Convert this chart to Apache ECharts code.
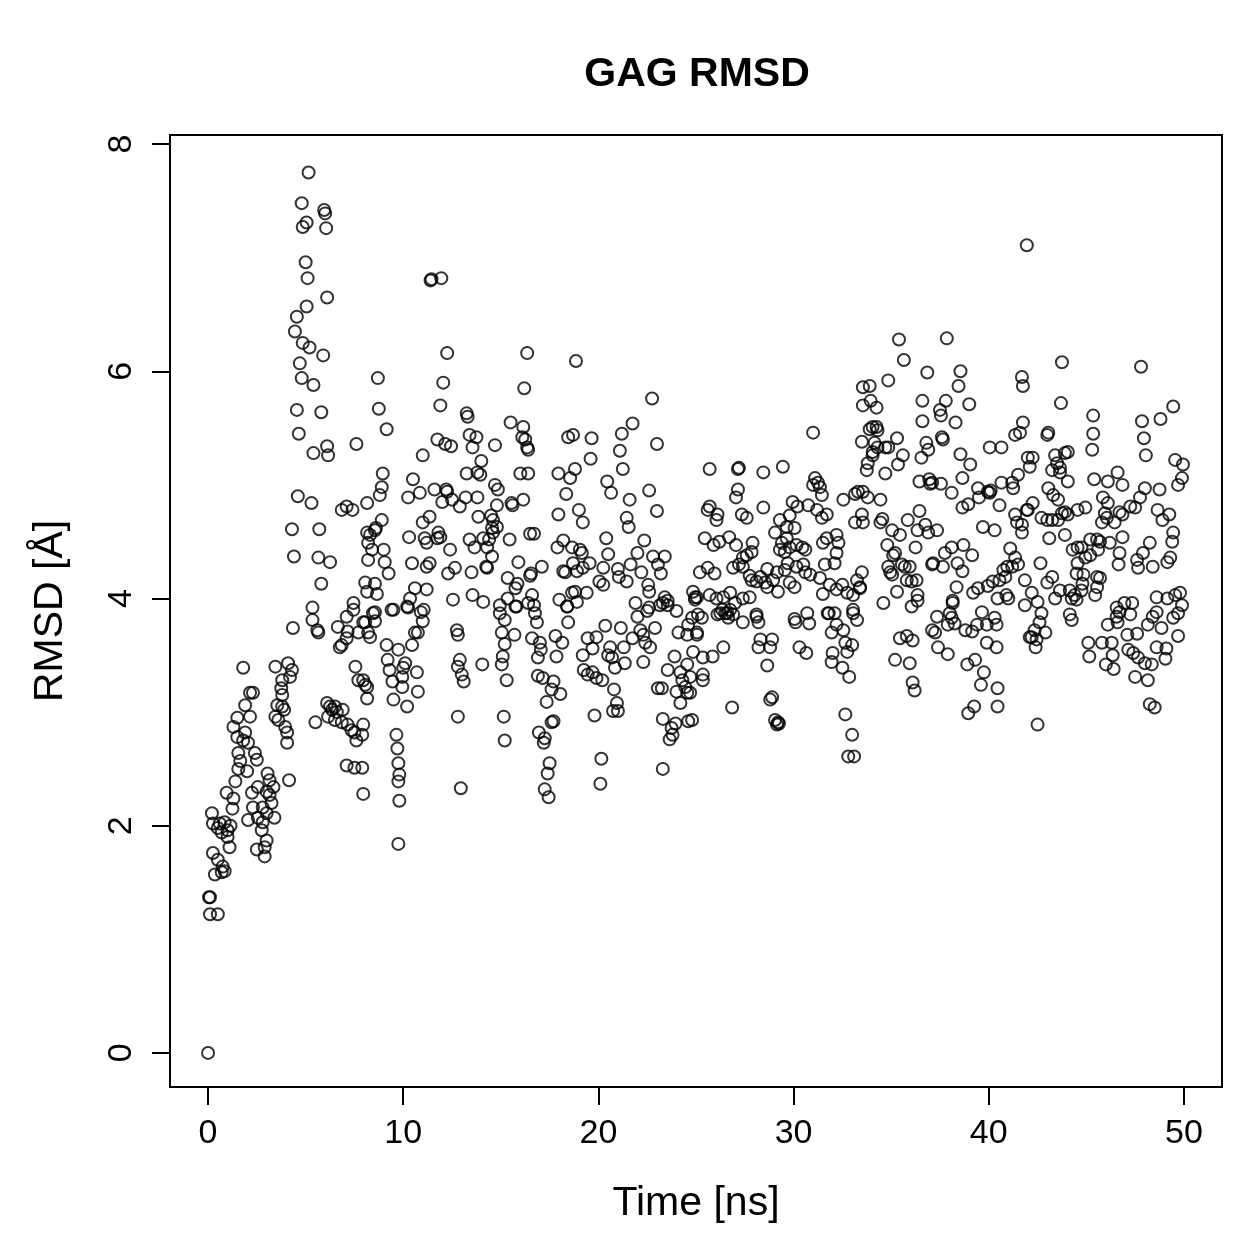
<!DOCTYPE html>
<html>
<head>
<meta charset="utf-8">
<title>GAG RMSD</title>
<script src="https://cdn.jsdelivr.net/npm/echarts@6/dist/echarts.min.js"></script>
<style>
  html, body { margin: 0; padding: 0; background: #fff; }
  #chart { width: 1259px; height: 1259px; }
</style>
</head>
<body>
<div id="chart"></div>
<script>
// [time (ns), RMSD (Å)], split by time window
const seg0to5 = [
  [0, 0], [0.05, 1.37], [0.1, 1.37], [0.1, 1.22], [0.5, 1.22], [0.2, 2.11], [0.25, 1.76], [0.35, 1.57],
  [0.25, 2.02], [0.5, 1.98], [0.6, 2.02], [0.5, 1.7], [0.75, 1.64], [0.7, 1.59], [0.85, 1.6], [0.7, 1.94],
  [0.85, 2.03], [0.95, 2.29], [1.0, 1.96], [1.0, 1.9], [1.1, 1.81], [1.15, 2.0], [1.25, 2.15], [1.3, 2.24],
  [1.4, 2.39], [1.55, 2.5], [1.65, 2.57], [1.55, 2.64], [1.5, 2.78], [1.3, 2.87], [1.5, 2.95], [1.8, 2.75],
  [1.9, 2.82], [2.05, 2.73], [2.0, 2.48], [1.8, 3.39], [1.9, 3.06], [2.15, 2.96], [2.15, 3.17], [2.3, 3.17],
  [2.05, 2.05], [2.25, 2.29], [2.3, 2.16], [2.55, 2.34], [2.4, 2.64], [2.5, 2.58], [2.55, 2.07], [2.5, 1.79],
  [2.75, 1.96], [2.8, 2.16], [2.8, 2.03], [2.9, 1.81], [2.9, 1.73], [3.0, 1.87], [3.0, 2.11], [3.0, 2.3],
  [3.05, 2.46], [3.15, 2.4], [3.15, 2.27], [3.25, 2.2], [3.35, 2.34], [3.4, 2.07], [3.45, 3.4], [3.45, 2.96],
  [3.55, 3.06], [3.6, 2.93], [3.75, 3.21], [3.8, 3.28], [3.8, 3.15], [3.8, 3.05], [3.9, 3.02], [3.95, 2.87],
  [4.05, 2.82], [4.05, 2.73], [4.1, 3.43], [4.2, 3.31], [4.3, 3.37], [4.15, 2.4], [4.35, 3.74], [4.3, 4.61],
  [4.4, 4.37], [4.45, 6.35], [4.55, 6.48], [4.55, 5.66], [4.65, 5.45], [4.6, 4.9], [4.7, 6.07], [4.8, 5.94],
  [4.8, 7.48], [4.85, 7.27], [5.05, 7.31], [5.0, 6.96], [5.05, 6.57], [4.85, 6.25]
]
const seg5to10 = [
  [5.15, 7.75], [5.1, 6.82], [5.2, 6.21], [5.4, 5.88], [5.3, 4.84], [5.35, 3.81], [5.35, 3.92], [5.4, 5.28],
  [5.6, 3.72], [5.65, 3.7], [5.5, 2.91], [5.7, 4.61], [5.65, 4.36], [5.8, 4.13], [5.8, 5.64], [5.9, 6.14],
  [5.95, 7.42], [6.0, 7.39], [6.05, 7.26], [6.1, 6.65], [6.1, 5.34], [6.15, 5.26], [6.25, 4.32], [6.1, 3.08],
  [6.25, 3.05], [6.35, 3.02], [6.5, 3.05], [6.6, 3.0], [6.9, 3.02], [6.15, 2.96], [6.5, 2.93], [6.85, 2.91],
  [7.15, 2.89], [7.35, 2.84], [7.5, 2.82], [7.6, 2.75], [7.9, 2.8], [7.95, 2.89], [7.1, 2.53], [7.5, 2.51],
  [7.9, 2.51], [7.95, 2.28], [6.65, 3.75], [6.75, 3.57], [6.85, 3.59], [7.1, 3.65], [7.15, 3.71], [7.1, 3.84],
  [7.45, 3.9], [7.7, 3.7], [7.45, 3.96], [7.95, 3.79], [8.2, 3.7], [6.85, 4.78], [7.1, 4.81], [7.4, 4.78],
  [7.6, 5.36], [7.55, 3.4], [7.7, 3.28], [8.05, 3.24], [8.15, 3.12], [7.95, 3.28], [8.15, 3.22], [8.05, 4.14],
  [8.15, 4.58], [8.2, 4.49], [8.2, 4.34], [8.15, 4.84], [8.3, 4.56], [8.55, 4.6], [8.6, 4.62], [8.9, 4.69],
  [8.4, 4.43], [9.0, 4.43], [9.05, 4.32], [9.25, 4.22], [8.55, 4.13], [8.15, 4.06], [8.65, 4.04], [8.55, 3.88],
  [8.45, 3.87], [8.55, 3.8], [8.05, 3.79], [8.3, 3.66], [8.7, 5.94], [8.75, 5.67], [9.15, 5.49], [8.95, 5.1],
  [8.9, 4.98], [8.8, 4.91], [9.5, 3.9], [9.4, 3.9], [9.15, 3.59], [9.75, 3.55], [9.2, 3.46], [9.3, 3.37],
  [9.45, 3.27], [9.95, 3.31], [9.95, 3.22], [9.5, 3.11], [10.0, 3.39], [9.65, 2.8], [9.7, 2.68], [9.75, 2.55],
  [9.8, 2.45], [9.75, 2.39], [9.8, 2.22], [9.75, 1.84]
]
const seg10to15 = [
  [10.1, 3.43], [10.2, 3.05], [10.2, 3.93], [10.25, 3.92], [10.45, 3.59], [10.6, 3.7], [10.75, 3.7], [10.7, 3.35],
  [10.75, 3.18], [11.0, 3.8], [10.9, 3.88], [11.05, 3.9], [10.5, 5.05], [10.85, 4.93], [10.25, 4.89], [11.0, 5.26],
  [11.35, 4.72], [11.0, 4.67], [11.8, 4.58], [11.9, 4.54], [11.75, 4.53], [11.1, 4.53], [11.2, 4.49], [10.3, 4.54],
  [10.45, 4.31], [11.2, 4.28], [11.35, 4.31], [10.6, 4.09], [11.2, 4.08], [10.35, 4.0], [11.4, 6.8], [11.45, 6.81],
  [11.95, 6.82], [12.25, 6.16], [12.05, 5.9], [11.9, 5.7], [11.75, 5.4], [12.15, 5.36], [12.45, 5.34], [11.6, 4.96],
  [12.2, 4.96], [12.25, 4.94], [12.0, 4.85], [12.5, 4.87], [12.9, 4.81], [12.4, 4.43], [12.3, 4.22], [12.65, 4.27],
  [12.55, 3.99], [12.75, 3.72], [12.8, 3.68], [12.8, 3.4], [12.9, 3.46], [13.0, 3.33], [13.1, 3.27], [12.8, 2.96],
  [12.95, 2.33], [13.25, 5.63], [13.3, 5.6], [13.4, 5.44], [13.75, 5.42], [13.55, 5.33], [14.0, 5.21], [13.25, 5.1],
  [13.8, 5.11], [13.95, 5.09], [13.2, 4.89], [13.8, 4.89], [13.85, 4.72], [13.4, 4.52], [13.65, 4.45], [14.1, 4.53],
  [14.3, 4.45], [14.55, 4.37], [13.5, 4.23], [14.25, 4.28], [14.3, 4.27], [13.55, 4.03], [14.1, 3.97], [14.05, 3.42],
  [14.7, 5.35], [14.7, 5.0], [14.85, 4.96], [14.8, 4.82], [14.5, 4.73], [14.6, 4.69], [14.8, 4.63], [14.55, 4.62],
  [14.6, 4.58], [14.4, 4.52], [14.95, 3.94], [14.95, 3.87]
]
const seg15to20 = [
  [15.1, 3.49], [15.2, 3.6], [15.3, 3.28], [15.15, 2.96], [15.2, 2.75], [15.05, 3.7], [15.7, 3.68], [15.2, 3.81],
  [15.75, 3.93], [15.35, 4.0], [15.8, 3.93], [15.05, 3.42], [15.5, 5.55], [15.55, 4.84], [15.6, 4.82], [16.15, 4.87],
  [15.45, 4.52], [15.9, 4.32], [16.5, 4.57], [15.35, 4.18], [15.85, 4.13], [15.75, 4.09], [16.5, 4.2], [16.4, 3.96],
  [16.35, 6.16], [16.2, 5.85], [16.15, 5.51], [16.1, 5.42], [16.25, 5.4], [16.35, 5.33], [16.4, 5.31], [16.0, 5.1],
  [16.4, 5.1], [16.7, 4.57], [17.1, 4.28], [16.55, 4.22], [16.6, 4.03], [16.7, 3.94], [16.75, 3.87], [16.85, 3.79],
  [16.6, 3.65], [17.0, 3.61], [16.9, 3.48], [17.05, 3.55], [16.9, 3.32], [17.15, 3.3], [17.7, 3.27], [17.6, 3.2],
  [18.05, 3.16], [17.35, 3.09], [17.6, 2.91], [17.7, 2.92], [16.95, 2.82], [17.25, 2.77], [17.2, 2.73], [17.5, 2.55],
  [17.4, 2.46], [17.25, 2.32], [17.45, 2.25], [17.8, 3.67], [18.15, 3.61], [17.85, 3.49], [18.4, 3.93], [18.45, 3.79],
  [18.85, 6.09], [18.45, 5.42], [18.7, 5.44], [19.65, 5.41], [19.6, 5.23], [17.95, 5.1], [18.55, 5.06], [18.8, 5.14],
  [18.35, 4.92], [17.95, 4.74], [19.0, 4.78], [19.2, 4.67], [17.9, 4.45], [18.2, 4.51], [18.65, 4.45], [19.05, 4.43],
  [19.15, 4.4], [18.2, 4.24], [18.3, 4.23], [18.7, 4.31], [18.9, 4.24], [19.2, 4.27], [19.55, 4.31], [18.0, 3.99],
  [18.4, 3.93], [18.65, 4.05], [18.8, 4.06], [18.9, 3.97], [19.4, 4.05], [19.2, 3.5], [19.45, 3.65], [19.9, 3.66],
  [19.7, 3.56], [19.25, 3.37], [19.45, 3.33], [19.7, 3.35], [19.9, 3.3], [19.8, 2.97]
]
const seg20to25 = [
  [20.35, 3.76], [20.2, 3.28], [20.15, 2.59], [20.1, 2.37], [20.6, 3.57], [20.7, 3.48], [20.85, 3.39], [20.5, 3.5],
  [20.8, 3.2], [20.95, 3.08], [20.75, 3.01], [21.0, 3.01], [21.15, 3.74], [21.3, 3.57], [21.35, 3.43], [21.9, 3.96],
  [22.0, 3.84], [21.75, 3.65], [22.15, 3.72], [22.3, 3.68], [22.4, 3.61], [22.6, 3.92], [22.65, 3.57], [22.9, 3.74],
  [22.3, 3.44], [23.3, 3.96], [23.55, 3.94], [24.0, 3.89], [23.05, 3.21], [23.25, 3.21], [23.3, 2.5], [23.3, 2.94],
  [23.75, 2.86], [23.95, 2.9], [23.65, 2.76], [23.8, 2.8], [24.6, 2.92], [23.9, 3.49], [23.55, 3.37], [24.2, 3.35],
  [24.3, 3.28], [24.45, 3.22], [24.0, 3.18], [24.55, 3.17], [24.2, 3.08], [24.55, 3.42], [24.7, 3.31], [24.1, 3.7],
  [24.6, 3.77], [24.55, 3.68], [24.8, 3.83], [24.85, 3.53], [22.75, 5.76], [21.75, 5.54], [21.2, 5.45], [23.0, 5.36],
  [21.1, 5.3], [21.25, 5.14], [20.45, 5.03], [20.65, 4.93], [22.6, 4.95], [21.6, 4.87], [21.45, 4.71], [21.55, 4.63],
  [23.0, 4.77], [20.4, 4.53], [20.5, 4.39], [22.35, 4.51], [20.25, 4.27], [21.0, 4.26], [21.05, 4.19], [21.45, 4.15],
  [21.65, 4.3], [22.0, 4.4], [22.2, 4.23], [22.8, 4.37], [23.05, 4.3], [23.4, 4.37], [23.2, 4.22], [22.55, 4.12],
  [22.6, 4.06], [20.05, 4.15], [20.25, 4.12], [22.5, 3.89], [23.4, 4.01], [23.55, 3.98], [23.15, 3.94], [24.85, 4.06],
  [24.95, 4.01], [24.7, 3.17], [24.8, 2.93]
]
const seg25to30 = [
  [25.05, 3.7], [25.3, 3.83], [25.05, 3.68], [25.35, 3.48], [25.85, 3.49], [26.4, 3.57], [25.35, 3.33], [25.35, 3.28],
  [26.1, 3.86], [26.5, 3.87], [26.65, 3.83], [26.75, 3.9], [26.35, 3.9], [27.4, 3.79], [28.1, 3.84], [28.2, 3.79],
  [26.85, 3.04], [28.3, 3.64], [28.9, 3.64], [28.8, 3.57], [28.2, 3.57], [28.65, 3.41], [28.9, 3.13], [28.8, 3.11],
  [29.05, 2.93], [29.2, 2.91], [29.15, 2.89], [29.25, 2.9], [25.7, 5.14], [27.15, 5.14], [27.2, 5.15], [28.45, 5.11],
  [29.45, 5.16], [27.15, 4.96], [27.05, 4.89], [25.7, 4.81], [25.6, 4.78], [26.1, 4.74], [26.05, 4.69], [27.35, 4.74],
  [27.6, 4.71], [28.45, 4.8], [29.95, 4.85], [29.8, 4.73], [29.3, 4.69], [29.65, 4.63], [29.05, 4.58], [25.45, 4.53],
  [25.9, 4.47], [26.2, 4.5], [26.7, 4.54], [27.05, 4.47], [27.9, 4.49], [27.85, 4.41], [27.6, 4.38], [27.4, 4.36],
  [29.4, 4.49], [29.65, 4.53], [29.3, 4.43], [29.55, 4.41], [29.8, 4.45], [29.7, 4.31], [29.55, 4.25], [25.2, 4.23],
  [25.6, 4.27], [25.95, 4.22], [26.9, 4.27], [27.2, 4.3], [27.4, 4.28], [27.75, 4.2], [27.85, 4.16], [28.1, 4.15],
  [28.3, 4.19], [28.55, 4.14], [28.65, 4.26], [29.15, 4.23], [28.95, 4.16], [25.05, 4.01], [24.95, 3.99], [25.7, 4.03],
  [26.05, 4.0], [26.4, 4.01], [26.75, 4.05], [27.0, 3.96], [27.4, 4.0], [27.75, 4.01], [26.6, 3.87], [26.25, 3.87],
  [26.9, 3.86], [28.1, 3.86], [25.1, 3.86], [28.65, 4.1], [29.2, 4.06], [29.8, 4.14]
]
const seg30to35 = [
  [30.2, 4.81], [30.75, 4.82], [30.05, 4.62], [30.15, 4.47], [30.45, 4.45], [30.6, 4.43], [30.15, 4.28], [30.5, 4.3],
  [30.6, 4.23], [30.85, 4.21], [31.35, 4.18], [31.85, 4.12], [32.2, 4.08], [32.5, 4.12], [32.75, 4.05], [33.05, 4.03],
  [33.25, 4.16], [33.4, 4.09], [30.05, 4.1], [30.05, 3.82], [30.7, 3.87], [31.5, 4.04], [31.75, 3.87], [32.1, 3.87],
  [33.05, 3.87], [30.1, 3.79], [30.8, 3.78], [30.3, 3.57], [30.65, 3.52], [31.8, 3.87], [32.2, 3.77], [32.55, 3.72],
  [31.95, 3.7], [32.65, 3.61], [33.0, 3.59], [32.75, 3.53], [32.0, 3.52], [31.95, 3.44], [32.5, 3.39], [32.85, 3.31],
  [33.05, 3.9], [33.25, 3.81], [32.65, 2.98], [33.0, 2.8], [32.8, 2.61], [33.1, 2.61], [31.0, 5.46], [33.55, 5.86],
  [33.55, 5.7], [33.5, 5.38], [31.1, 5.06], [31.25, 5.02], [31.35, 4.98], [31.0, 5.0], [31.45, 4.91], [32.55, 4.87],
  [33.15, 4.92], [31.2, 4.78], [31.45, 4.71], [31.7, 4.74], [31.5, 4.49], [31.7, 4.53], [32.2, 4.56], [32.3, 4.49],
  [32.2, 4.4], [31.6, 4.3], [32.1, 4.31], [35.4, 6.28], [35.65, 6.1], [34.85, 5.92], [33.9, 5.87], [33.95, 5.74],
  [34.25, 5.68], [34.05, 5.51], [34.25, 5.51], [34.3, 5.48], [33.9, 5.49], [34.15, 5.37], [34.05, 5.29], [34.3, 5.33],
  [34.7, 5.33], [34.85, 5.33], [35.3, 5.41], [34.05, 5.26], [33.8, 5.19], [33.75, 5.13], [34.7, 5.1], [33.3, 4.94],
  [33.55, 4.94], [33.8, 4.89], [34.45, 4.87], [33.5, 4.74], [33.55, 4.67], [33.15, 4.67], [34.55, 4.7], [34.45, 4.67],
  [34.8, 4.47], [33.5, 4.23], [33.4, 4.1], [34.85, 4.28], [34.95, 4.23], [34.6, 3.96]
]
const seg35to40 = [
  [36.85, 5.99], [38.55, 6.0], [37.85, 6.29], [38.45, 5.87], [36.6, 5.74], [37.5, 5.66], [37.55, 5.61], [37.8, 5.74],
  [39.0, 5.71], [36.6, 5.56], [38.3, 5.55], [37.6, 5.42], [37.65, 5.4], [35.6, 5.26], [35.35, 5.18], [36.8, 5.37],
  [36.9, 5.31], [36.55, 5.24], [38.55, 5.27], [39.05, 5.18], [38.65, 5.06], [36.45, 5.03], [36.95, 5.05], [37.1, 5.02],
  [37.0, 5.01], [37.55, 5.01], [38.1, 4.93], [39.45, 4.97], [39.95, 4.94], [39.5, 4.89], [38.65, 4.8], [38.95, 4.83],
  [36.45, 4.77], [35.85, 4.69], [35.05, 4.6], [35.45, 4.56], [36.35, 4.6], [36.75, 4.65], [36.9, 4.58], [37.35, 4.6],
  [39.7, 4.63], [35.1, 4.38], [35.2, 4.4], [36.25, 4.45], [38.1, 4.45], [38.7, 4.47], [39.15, 4.38], [37.75, 4.4],
  [37.65, 4.28], [37.15, 4.31], [37.1, 4.3], [38.4, 4.31], [38.65, 4.24], [35.05, 4.21], [35.55, 4.3], [35.7, 4.28],
  [35.95, 4.28], [35.8, 4.16], [36.05, 4.15], [36.3, 4.16], [35.3, 4.06], [36.35, 4.03], [36.05, 3.93], [38.35, 4.1],
  [38.15, 3.98], [39.2, 4.05], [39.45, 4.09], [39.95, 4.11], [39.65, 3.88], [37.35, 3.84], [38.0, 3.87], [38.1, 3.83],
  [36.35, 3.98], [38.15, 3.96], [37.1, 3.72], [37.25, 3.7], [37.9, 3.77], [38.25, 3.78], [38.8, 3.72], [39.15, 3.71],
  [39.4, 3.77], [39.9, 3.77], [35.45, 3.65], [35.8, 3.67], [36.1, 3.63], [35.2, 3.46], [35.95, 3.43], [36.1, 3.26],
  [36.2, 3.19], [37.4, 3.57], [37.9, 3.51], [38.9, 3.42], [39.3, 3.46], [39.75, 3.35], [39.6, 3.24], [38.95, 2.99],
  [39.25, 3.05], [39.9, 3.61]
]
const seg40to45 = [
  [40.05, 5.33], [40.65, 5.33], [42.0, 5.24], [41.5, 5.09], [41.2, 5.02], [41.25, 4.97], [40.1, 4.95], [40.05, 4.93],
  [40.65, 5.02], [40.55, 4.82], [40.3, 4.6], [41.35, 4.74], [41.45, 4.67], [41.7, 4.65], [41.95, 4.78], [41.1, 4.44],
  [41.35, 4.36], [40.95, 4.28], [41.2, 4.28], [41.5, 4.3], [40.75, 4.25], [40.2, 4.15], [40.55, 4.16], [40.85, 4.19],
  [40.45, 4.0], [40.9, 4.03], [41.0, 4.0], [41.85, 4.16], [41.85, 3.94], [40.3, 3.83], [41.95, 7.11], [41.7, 5.95],
  [41.75, 5.87], [41.75, 5.55], [41.35, 5.44], [41.6, 5.46], [40.4, 3.77], [40.45, 3.21], [40.45, 3.05], [40.4, 3.57],
  [42.1, 3.66], [43.75, 6.08], [43.7, 5.72], [43.0, 5.44], [43.05, 5.46], [42.25, 5.24], [42.1, 5.16], [43.4, 5.26],
  [43.5, 5.19], [43.65, 5.15], [43.9, 5.28], [44.05, 5.29], [43.25, 5.13], [43.65, 5.11], [44.05, 5.03], [43.05, 4.97],
  [43.3, 4.91], [43.55, 4.87], [42.25, 4.84], [42.0, 4.78], [42.7, 4.71], [43.25, 4.69], [43.0, 4.69], [43.55, 4.69],
  [43.75, 4.75], [43.9, 4.76], [44.05, 4.74], [44.55, 4.78], [44.95, 4.8], [41.7, 4.58], [43.1, 4.53], [43.9, 4.56],
  [44.3, 4.43], [44.55, 4.45], [44.75, 4.45], [44.95, 4.36], [44.55, 4.31], [44.5, 4.22], [44.85, 4.21], [42.65, 4.31],
  [43.0, 4.14], [43.25, 4.19], [43.4, 4.0], [43.65, 4.07], [44.15, 4.07], [44.25, 4.0], [44.4, 4.03], [44.5, 3.99],
  [44.75, 4.07], [44.8, 4.13], [42.2, 4.05], [42.5, 3.97], [42.7, 3.87], [42.6, 3.79], [42.35, 3.72], [42.2, 3.66],
  [42.45, 3.64], [42.9, 3.7], [42.4, 3.57], [44.15, 3.86], [44.25, 3.81], [42.5, 2.89]
]
const seg45to50 = [
  [47.8, 6.04], [49.45, 5.69], [45.35, 5.61], [47.85, 5.56], [48.8, 5.58], [45.35, 5.45], [47.95, 5.41], [45.3, 5.31],
  [48.05, 5.26], [49.55, 5.22], [49.95, 5.18], [46.6, 5.11], [46.1, 5.03], [46.85, 5.0], [45.4, 5.05], [49.9, 5.06],
  [49.7, 5.0], [45.85, 4.89], [46.1, 4.84], [45.95, 4.75], [45.8, 4.67], [46.05, 4.71], [46.45, 4.67], [46.7, 4.76],
  [46.85, 4.74], [47.25, 4.81], [47.5, 4.8], [47.75, 4.89], [48.0, 4.97], [48.75, 4.96], [48.65, 4.78], [48.9, 4.69],
  [49.25, 4.74], [45.2, 4.52], [45.55, 4.52], [45.7, 4.5], [45.6, 4.43], [45.2, 4.38], [45.55, 4.19], [46.2, 4.49],
  [46.85, 4.54], [46.7, 4.4], [46.65, 4.3], [47.6, 4.34], [47.9, 4.4], [48.25, 4.49], [47.65, 4.27], [48.4, 4.28],
  [49.15, 4.32], [49.3, 4.36], [49.45, 4.58], [49.4, 4.5], [45.55, 4.1], [45.7, 4.18], [45.45, 4.03], [46.55, 3.92],
  [46.7, 3.88], [46.95, 3.96], [47.35, 3.96], [46.55, 3.84], [48.6, 4.01], [49.15, 4.0], [49.55, 4.03], [49.8, 4.05],
  [49.9, 3.94], [49.7, 3.87], [48.6, 3.88], [45.1, 3.61], [45.15, 3.49], [45.8, 3.61], [46.3, 3.61], [46.35, 3.5],
  [46.0, 3.42], [46.4, 3.38], [46.1, 3.77], [46.6, 3.79], [47.25, 3.86], [47.1, 3.68], [47.6, 3.69], [47.15, 3.55],
  [47.4, 3.52], [47.65, 3.48], [47.5, 3.31], [48.15, 3.28], [48.0, 3.43], [48.35, 3.42], [48.6, 3.57], [49.1, 3.56],
  [49.05, 3.47], [49.7, 3.67], [48.15, 3.77], [48.4, 3.84], [48.85, 3.74], [49.45, 3.83], [48.25, 3.07], [48.5, 3.04]
]

const xTicks = [0, 10, 20, 30, 40, 50]
const yTicks = [0, 2, 4, 6, 8]

const points = [].concat(seg0to5, seg5to10, seg10to15, seg15to20, seg20to25,
  seg25to30, seg30to35, seg35to40, seg40to45, seg45to50)

const font = '"Liberation Sans", Arial, Helvetica, sans-serif'
let chart = echarts.init(document.getElementById('chart'), null, { renderer: 'canvas' })
let option = {
  animation: false,
  backgroundColor: '#fff',
  title: {
    text: 'GAG RMSD',
    left: 692,
    top: 49,
    textAlign: 'center',
    textStyle: { fontFamily: font, fontSize: 41, fontWeight: 'bold', color: '#000' }
  },
  grid: {
    left: 170, right: 37, top: 135, bottom: 172,
    show: true, borderColor: '#000', borderWidth: 2
  },
  xAxis: {
    type: 'value',
    min: -1.95,
    max: 51.95,
    name: 'Time [ns]',
    nameLocation: 'middle',
    nameGap: 96,
    nameTextStyle: { fontFamily: font, fontSize: 41, color: '#000' },
    axisLine: { show: false, onZero: false },
    axisTick: { show: true, inside: false, length: 18, lineStyle: { color: '#000', width: 2 }, customValues: xTicks },
    axisLabel: { customValues: xTicks, margin: 30, fontFamily: font, fontSize: 34, color: '#000' },
    splitLine: { show: false }
  },
  yAxis: {
    type: 'value',
    min: -0.3,
    max: 8.08,
    name: 'RMSD [Å]',
    nameLocation: 'middle',
    nameGap: 99,
    nameTextStyle: { fontFamily: font, fontSize: 41, color: '#000' },
    axisLine: { show: false, onZero: false },
    axisTick: { show: true, inside: false, length: 18, lineStyle: { color: '#000', width: 2 }, customValues: yTicks },
    axisLabel: { customValues: yTicks, rotate: 90, margin: 31, fontFamily: font, fontSize: 34, color: '#000' },
    splitLine: { show: false }
  },
  series: [{
    type: 'scatter',
    data: points,
    symbol: 'circle',
    symbolSize: 12,
    silent: true,
    itemStyle: { color: 'rgba(0,0,0,0)', borderColor: '#000', borderWidth: 2 }
  }]
}
chart.setOption(option)
</script>
</body>
</html>
